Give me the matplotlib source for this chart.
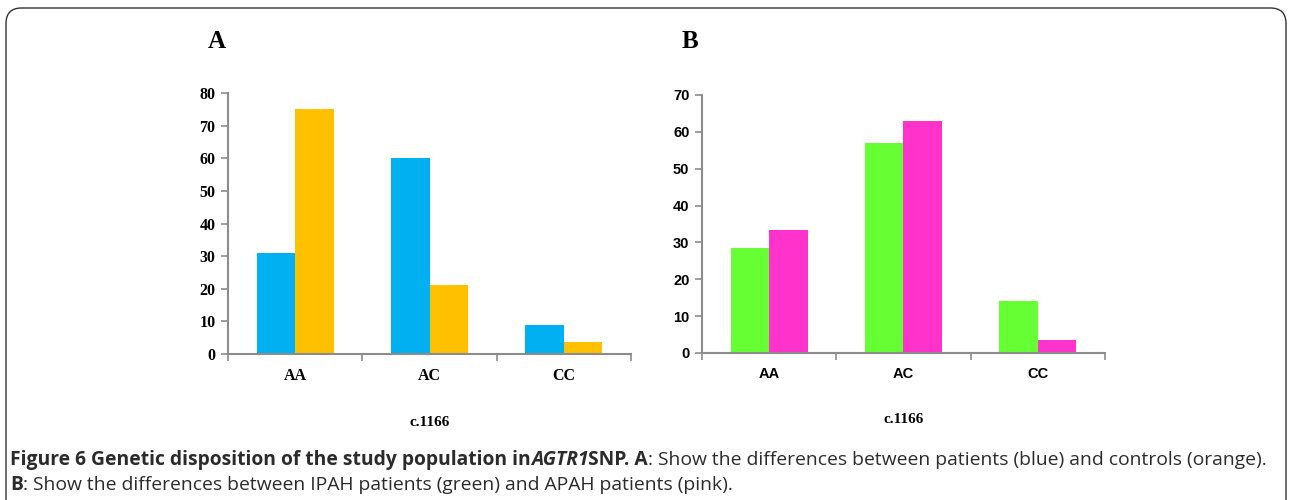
import matplotlib.pyplot as plt
from matplotlib.patches import FancyBboxPatch
import numpy as np

GENOTYPES = ['AA', 'AC', 'CC']
PATIENTS = [31, 60, 9]
CONTROLS = [75, 21, 3.7]
IPAH = [28.5, 57, 14.2]
APAH = [33.3, 63, 3.5]

BAR_W = 0.286
GRAY = '#8c8c8c'

fig = plt.figure(figsize=(12.92, 5.0), dpi=100)

# ── frame round the whole figure (bottom edge runs off the picture) ───────────
frame = FancyBboxPatch((6 / 1292, -0.1), 1280 / 1292, 1.084,
                       boxstyle='round,pad=0,rounding_size=0.012',
                       transform=fig.transFigure, fill=False,
                       edgecolor='#333333', linewidth=1.0, mutation_aspect=2.6)
fig.patches.append(frame)


def bar_panel(rect, s1, s2, c1, c2, ymax, family, tick_fs, label, label_x):
    ax = fig.add_axes(rect)
    x = np.arange(len(GENOTYPES))
    ax.bar(x - BAR_W / 2, s1, BAR_W, color=c1)
    ax.bar(x + BAR_W / 2, s2, BAR_W, color=c2)
    ax.set_xlim(-0.5, 2.5)
    ax.set_ylim(0, ymax)
    ax.set_yticks(range(0, ymax + 1, 10))
    ax.set_xticks(x)
    ax.set_xticklabels(GENOTYPES)
    ax.set_xticks([-0.5, 0.5, 1.5, 2.5], minor=True)
    ax.tick_params(axis='x', which='major', length=0, pad=10)
    ax.tick_params(axis='x', which='minor', length=5, color=GRAY, width=1.2,
                   direction='out')
    ax.tick_params(axis='y', length=5, color=GRAY, width=1.2, pad=4)
    for side in ('top', 'right'):
        ax.spines[side].set_visible(False)
    for side in ('left', 'bottom'):
        ax.spines[side].set_color(GRAY)
        ax.spines[side].set_linewidth(1.5)
    for t in ax.get_xticklabels() + ax.get_yticklabels():
        t.set_family(family)
        t.set_fontweight('bold')
        t.set_fontsize(tick_fs)
    ax.set_xlabel('c.1166', family='Liberation Serif', fontweight='bold',
                  fontsize=11, labelpad=23)
    fig.text(label_x, 0.918, label, family='Liberation Serif',
             fontweight='bold', fontsize=18, ha='center', va='center')
    return ax


bar_panel([0.1765, 0.292, 0.3119, 0.522], PATIENTS, CONTROLS,
          '#00b0f0', '#ffc000', 80, 'Liberation Serif', 11.5, 'A', 217 / 1292)
bar_panel([0.5433, 0.294, 0.312, 0.516], IPAH, APAH,
          '#66ff33', '#ff33cc', 70, 'Liberation Sans', 10.5, 'B', 690 / 1292)

# ── caption with mixed styles ─────────────────────────────────────────────────
renderer = fig.canvas.get_renderer()
CAP_FS = 13.9
CAP_FONT = 'Open Sans'
CAP_COLOR = '#2b2b2b'


def run(parts, x0, y):
    x = x0
    for txt, weight, style in parts:
        t = fig.text(x, y, txt, fontsize=CAP_FS, family=CAP_FONT, color=CAP_COLOR,
                     fontweight=weight, fontstyle=style, va='baseline')
        bb = t.get_window_extent(renderer=renderer)
        x += bb.width / fig.bbox.width


run([('Figure 6 Genetic disposition of the study population in', 'bold', 'normal'),
     ('AGTR1', 'bold', 'italic'),
     ('SNP. A', 'bold', 'normal'),
     (': Show the differences between patients (blue) and controls (orange).',
      'normal', 'normal')], 10 / 1292, 1 - 465 / 500)
run([('B', 'bold', 'normal'),
     (': Show the differences between IPAH patients (green) and APAH patients (pink).',
      'normal', 'normal')], 10 / 1292, 1 - 490 / 500)

fig.savefig('out.png', dpi=100)
